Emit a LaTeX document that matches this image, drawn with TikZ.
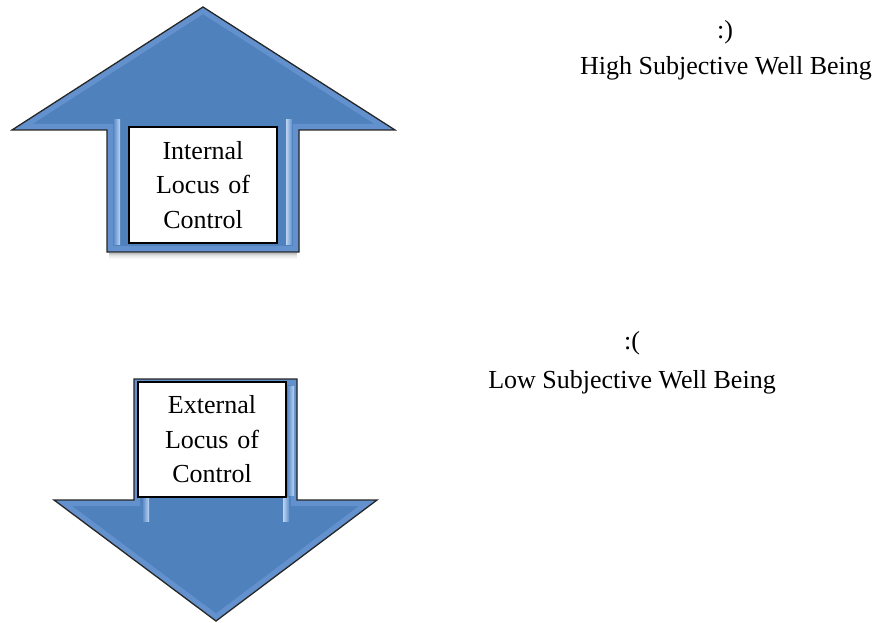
\documentclass[tikz,border=0pt]{standalone}
\usepackage{fontspec}
\setmainfont{Liberation Serif}
\definecolor{arrowblue}{HTML}{4F81BD}
\definecolor{bevelblue}{HTML}{6291CD}
\definecolor{hiblue}{HTML}{BDD4F1}
\tikzset{
  arrowbody/.style={fill=arrowblue},
  arrowline/.style={draw=black!85, line width=1.3pt, line join=miter},
  labelbox/.style={draw=black, line width=1.3pt, fill=white, inner xsep=0pt, inner ysep=0pt,
    text width=#1, align=center, font=\fontsize{26}{34.5}\selectfont},
  plaintext/.style={inner sep=0pt, font=\fontsize{26}{31}\selectfont},
}
\begin{document}
\begin{tikzpicture}[x=1pt,y=-1pt]
\useasboundingbox (0,0) rectangle (878,623);

% ---------- up arrow ----------
\def\uppath{(203,7) -- (395,130) -- (299,130) -- (299,252) -- (107,252) -- (107,130) -- (12,130) -- cycle}
% soft shadow below shaft
\foreach \d/\o in {1/0.25,2/0.18,3/0.12,4/0.08,5/0.05,6/0.03}
  \draw[black, opacity=\o, line width=1pt] (109,252+\d) -- (297,252+\d);
\fill[arrowbody] \uppath;
\begin{scope}
  \clip \uppath;
  \draw[bevelblue, line width=12pt, line join=miter] \uppath;
\end{scope}
\shade[left color=bevelblue, right color=hiblue] (114,120) rectangle (120,244);
\shade[left color=hiblue, right color=bevelblue] (286,120) rectangle (292,244);
\draw[arrowline] \uppath;

% ---------- down arrow ----------
\def\downpath{(134,379) -- (297,379) -- (297,500) -- (377,500) -- (216,621) -- (54,500) -- (134,500) -- cycle}
\fill[arrowbody] \downpath;
\begin{scope}
  \clip \downpath;
  \draw[bevelblue, line width=12pt, line join=miter] \downpath;
\end{scope}
\shade[left color=bevelblue, right color=hiblue] (143,497) rectangle (149,521);
\shade[left color=hiblue, right color=bevelblue] (283,497) rectangle (289,521);
\shade[left color=bevelblue, right color=hiblue] (288,386) rectangle (294,495);
\draw[arrowline] \downpath;

% ---------- label boxes ----------
\node[labelbox=148pt, minimum height=116pt] (inbox) at (203,185) {Internal\\Locus of\\Control};
\node[labelbox=148pt, minimum height=115pt] (exbox) at (212,439.5) {External\\Locus of\\Control};

% ---------- right-hand texts ----------
\node[plaintext] (highsmile) at (725,32) {:)};
\node[plaintext] (high) at (726,68) {High Subjective Well Being};
\node[plaintext] (lowsmile) at (632,343) {:(};
\node[plaintext] (low) at (632,382) {Low Subjective Well Being};
\end{tikzpicture}
\end{document}
